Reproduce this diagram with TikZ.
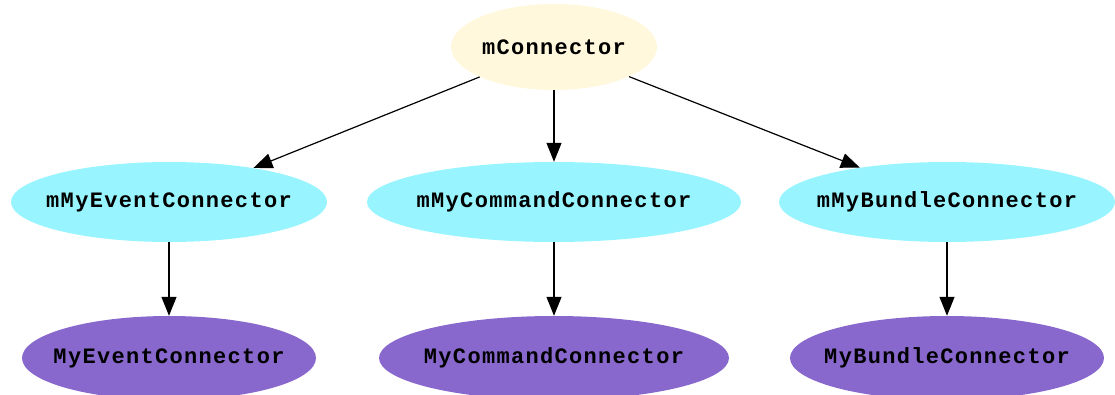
\documentclass[tikz,border=0pt]{standalone}
\usepackage{fontspec}
\setmonofont{Liberation Mono}[LetterSpace=6]
\usetikzlibrary{shapes.geometric,arrows.meta}
% centred label of zero width, so the ellipse keeps its given size
\newcommand{\lbl}[1]{\makebox[0pt][c]{#1}}
\begin{document}
\begin{tikzpicture}[x=1pt,y=-1pt,
  every node/.style={ellipse,inner sep=0pt,font=\ttfamily\bfseries\fontsize{22}{26}\selectfont},
  rootnode/.style={fill=cornsilk},
  midnode/.style={fill=cadetblue},
  leafnode/.style={fill=purplish},
  edge/.style={draw=black,line width=1.2pt,-{Triangle[length=19pt,width=15pt]}}]
  \definecolor{cornsilk}{HTML}{FFF8DC}
  \definecolor{cadetblue}{HTML}{98F5FF}
  \definecolor{purplish}{HTML}{8968CD}
  \useasboundingbox (0,0) rectangle (1115,395);

  \node[rootnode,minimum width=206pt,minimum height=86pt] (root) at (554,47) {\lbl{mConnector}};

  \node[midnode,minimum width=316pt,minimum height=80pt] (ev) at (169,202) {\lbl{mMyEventConnector}};
  \node[midnode,minimum width=374pt,minimum height=80pt] (cmd) at (554,202) {\lbl{mMyCommandConnector}};
  \node[midnode,minimum width=336pt,minimum height=80pt] (bun) at (947,202) {\lbl{mMyBundleConnector}};

  \node[leafnode,minimum width=294pt,minimum height=84pt] (lev) at (169,358) {\lbl{MyEventConnector}};
  \node[leafnode,minimum width=350pt,minimum height=84pt] (lcmd) at (554,358) {\lbl{MyCommandConnector}};
  \node[leafnode,minimum width=314pt,minimum height=84pt] (lbun) at (947,358) {\lbl{MyBundleConnector}};

  \draw[edge] (root) -- (ev);
  \draw[edge] (root) -- (cmd);
  \draw[edge] (root) -- (bun);
  \draw[edge] (ev) -- (lev);
  \draw[edge] (cmd) -- (lcmd);
  \draw[edge] (bun) -- (lbun);
\end{tikzpicture}
\end{document}
